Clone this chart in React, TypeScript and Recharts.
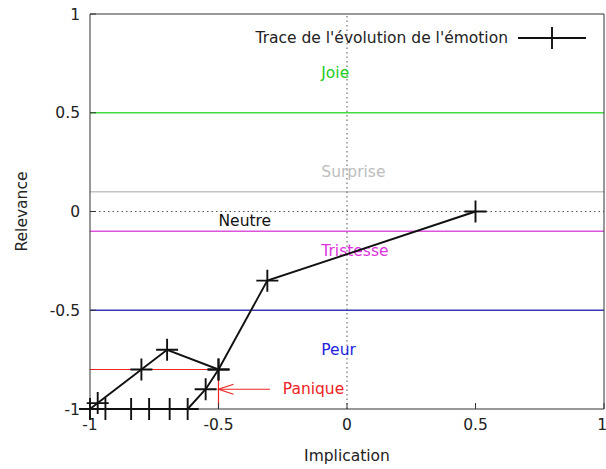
import React from "react";
import {
  ScatterChart,
  Scatter,
  XAxis,
  YAxis,
  ReferenceLine,
  Legend,
} from "recharts";

// emotion trace (implication, relevance), in drawing order
const traceX = [-0.5, -0.55, -0.62, -0.69, -0.77, -0.84, -0.94, -1, -0.97, -0.8, -0.7, -0.5, -0.31, 0.5];
const traceY = [-0.8, -0.9, -1, -1, -1, -1, -1, -1, -0.97, -0.8, -0.7, -0.8, -0.35, 0];

const axisTicks = [-1, -0.5, 0, 0.5, 1];

// emotion zone labels
const labelNames = ["Joie", "Surprise", "Neutre", "Tristesse", "Peur", "Panique"];
const labelX = [-0.1, -0.1, -0.5, -0.1, -0.1, -0.25];
const labelY = [0.7, 0.2, -0.05, -0.2, -0.7, -0.9];
const labelColors = ["#22cc22", "#bdbdbd", "#111111", "#dd33dd", "#2222dd", "#ee2222"];

// horizontal boundaries between zones
const boundaryY = [0.5, 0.1, -0.1, -0.5];
const boundaryColors = ["#44dd44", "#c4c4c4", "#dd55dd", "#3a3ab8"];

const trace = traceX.map((x, i) => ({ x, y: traceY[i] }));
const labels = labelNames.map((text, i) => ({
  x: labelX[i],
  y: labelY[i],
  text,
  color: labelColors[i],
}));

const FONT = "'DejaVu Sans', sans-serif";
const FS = 15.5;
const tickStyle = { fontSize: FS, fill: "#222", fontFamily: FONT };

const Cross = (props: any) => {
  const { cx, cy } = props;
  if (cx == null || cy == null) return null;
  return (
    <path
      d={`M${cx - 11},${cy}H${cx + 11}M${cx},${cy - 11}V${cy + 11}`}
      stroke="#111"
      strokeWidth={1.9}
      fill="none"
    />
  );
};

const LabelText = (props: any) => {
  const { cx, cy, payload } = props;
  return (
    <text
      x={cx}
      y={cy}
      fill={payload.color}
      fontSize={FS}
      fontFamily={FONT}
      dominantBaseline="central"
    >
      {payload.text}
    </text>
  );
};

const Arrow = (props: any) => {
  const { x1, y1, x2, y2 } = props;
  return (
    <g stroke="#ee2222" strokeWidth={1.2} fill="none">
      <line x1={x1} y1={y1} x2={x2} y2={y2} />
      <path d={`M${x2 + 15},${y2 - 5}L${x2},${y2}L${x2 + 15},${y2 + 5}`} />
    </g>
  );
};

const renderLegend = () => (
  <div
    style={{
      display: "flex",
      justifyContent: "flex-end",
      alignItems: "center",
      fontFamily: FONT,
      fontSize: FS,
      color: "#222",
    }}
  >
    <span>Trace de l'évolution de l'émotion</span>
    <svg width={68} height={24} style={{ marginLeft: 10 }}>
      <path d="M0,12H68M34,1V23" stroke="#111" strokeWidth={1.9} />
    </svg>
  </div>
);

export default function App() {
  return (
    <div style={{ position: "absolute", left: 0, top: 0, background: "#fff" }}>
      <ScatterChart
        width={606}
        height={469}
        margin={{ top: 0, right: 0, bottom: 0, left: 0 }}
        style={{ fontFamily: FONT }}
      >
        <XAxis
          dataKey="x"
          type="number"
          domain={[-1, 1]}
          ticks={axisTicks}
          tickFormatter={(v) => String(v)}
          height={60}
          tickSize={-6}
          tickMargin={16}
          stroke="#333"
          tick={tickStyle}
          label={{
            value: "Implication",
            position: "insideBottom",
            offset: 8,
            fontSize: FS,
            fill: "#222",
            fontFamily: FONT,
          }}
        />
        <XAxis
          xAxisId="top"
          orientation="top"
          type="number"
          domain={[-1, 1]}
          ticks={axisTicks}
          height={14}
          tickSize={-6}
          tick={false}
          stroke="#333"
        />
        <YAxis
          dataKey="y"
          type="number"
          domain={[-1, 1]}
          ticks={axisTicks}
          tickFormatter={(v) => String(v)}
          width={90}
          tickSize={-6}
          tickMargin={16}
          stroke="#333"
          tick={tickStyle}
          label={{
            content: (p: any) => {
              const vb = p.viewBox;
              const cx = vb.x + 22;
              const cy = vb.y + vb.height / 2;
              return (
                <text
                  x={cx}
                  y={cy}
                  transform={`rotate(-90 ${cx} ${cy})`}
                  textAnchor="middle"
                  dominantBaseline="central"
                  fontSize={FS}
                  fill="#222"
                  fontFamily={FONT}
                >
                  Relevance
                </text>
              );
            },
          }}
        />
        <YAxis
          yAxisId="right"
          orientation="right"
          type="number"
          domain={[-1, 1]}
          ticks={axisTicks}
          width={2}
          tickSize={-6}
          tick={false}
          stroke="#333"
        />

        {boundaryY.map((y, i) => (
          <ReferenceLine key={y} y={y} stroke={boundaryColors[i]} strokeWidth={1.3} />
        ))}
        <ReferenceLine y={0} stroke="#555" strokeDasharray="1.5 3" />
        <ReferenceLine x={0} stroke="#555" strokeDasharray="1.5 3" />

        <ReferenceLine
          segment={[{ x: -1, y: -0.8 }, { x: -0.5, y: -0.8 }]}
          stroke="#ee2222"
          strokeWidth={1.2}
        />
        <ReferenceLine
          segment={[{ x: -0.5, y: -1 }, { x: -0.5, y: -0.8 }]}
          stroke="#ee2222"
          strokeWidth={1.2}
        />
        <ReferenceLine
          segment={[{ x: -0.3, y: -0.9 }, { x: -0.5, y: -0.9 }]}
          shape={Arrow}
        />

        <Scatter
          name="labels"
          data={labels}
          shape={LabelText}
          legendType="none"
          isAnimationActive={false}
        />
        <Scatter
          name="Trace de l'évolution de l'émotion"
          data={trace}
          shape={Cross}
          line={{ stroke: "#111", strokeWidth: 1.9 }}
          isAnimationActive={false}
        />

        <Legend
          layout="vertical"
          verticalAlign="middle"
          align="center"
          content={renderLegend}
          wrapperStyle={{ top: 26, left: 196, width: 390 }}
        />
      </ScatterChart>
    </div>
  );
}
